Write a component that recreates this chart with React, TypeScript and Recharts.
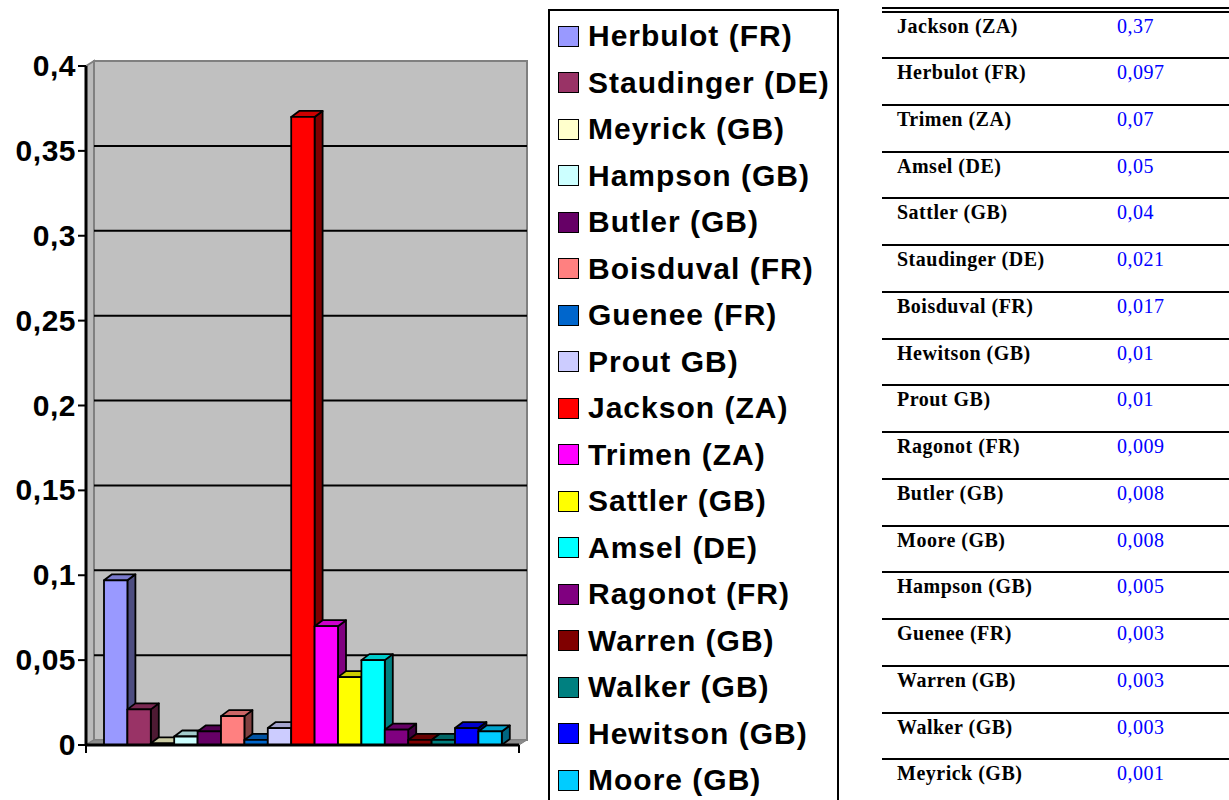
import React from "react";
import { Bar, BarChart, CartesianGrid, Legend, ReferenceArea, XAxis, YAxis } from "recharts";

// legend / series order
const authors = [
  "Herbulot (FR)", "Staudinger (DE)", "Meyrick (GB)", "Hampson (GB)", "Butler (GB)",
  "Boisduval (FR)", "Guenee (FR)", "Prout GB)", "Jackson (ZA)", "Trimen (ZA)",
  "Sattler (GB)", "Amsel (DE)", "Ragonot (FR)", "Warren (GB)", "Walker (GB)",
  "Hewitson (GB)", "Moore (GB)",
];
const shares = [
  0.097, 0.021, 0.001, 0.005, 0.008, 0.017, 0.003, 0.01, 0.37, 0.07,
  0.04, 0.05, 0.009, 0.003, 0.003, 0.01, 0.008,
];
const colors = [
  "#9999FF", "#993366", "#FFFFCC", "#CCFFFF", "#660066", "#FF8080", "#0066CC",
  "#CCCCFF", "#FF0000", "#FF00FF", "#FFFF00", "#00FFFF", "#800080", "#800000",
  "#008080", "#0000FF", "#00CCFF",
];
const yTicks = [0, 0.05, 0.1, 0.15, 0.2, 0.25, 0.3, 0.35, 0.4];

// ranking table on the right
const tableNames = [
  "Jackson (ZA)", "Herbulot (FR)", "Trimen (ZA)", "Amsel (DE)", "Sattler (GB)",
  "Staudinger (DE)", "Boisduval (FR)", "Hewitson (GB)", "Prout GB)", "Ragonot (FR)",
  "Butler (GB)", "Moore (GB)", "Hampson (GB)", "Guenee (FR)", "Warren (GB)",
  "Walker (GB)", "Meyrick (GB)",
];
const tableValues = [
  "0,37", "0,097", "0,07", "0,05", "0,04", "0,021", "0,017", "0,01", "0,01",
  "0,009", "0,008", "0,008", "0,005", "0,003", "0,003", "0,003", "0,001",
];

const row: Record<string, string | number> = { name: "" };
authors.forEach((_, i) => {
  row[`s${i}`] = shares[i];
});
const data = [row];

const SANS = '"Liberation Sans", Arial, sans-serif';
const SERIF = '"Liberation Serif", "Times New Roman", serif';
const TOP = 66;
const BOTTOM = 745;
const WALL_DX = 8;
const WALL_DY = -5;
const BAR_DX = 8;
const BAR_DY = -6;

function shade(hex: string, k: number) {
  const n = parseInt(hex.slice(1), 16);
  const r = Math.round(((n >> 16) & 255) * k);
  const g = Math.round(((n >> 8) & 255) * k);
  const b = Math.round((n & 255) * k);
  return `rgb(${r},${g},${b})`;
}

function Box3D(props: any) {
  const { x, y, width: w, height: h, fill } = props;
  if (w == null || h == null) return null;
  return (
    <g stroke="#000" strokeWidth={1.8} strokeLinejoin="round">
      <polygon
        points={`${x + w},${y} ${x + w + BAR_DX},${y + BAR_DY} ${x + w + BAR_DX},${y + h + BAR_DY} ${x + w},${y + h}`}
        fill={shade(fill, 0.5)}
      />
      <polygon
        points={`${x},${y} ${x + BAR_DX},${y + BAR_DY} ${x + w + BAR_DX},${y + BAR_DY} ${x + w},${y}`}
        fill={shade(fill, 0.8)}
      />
      <rect x={x} y={y} width={w} height={h} fill={fill} />
    </g>
  );
}

function Walls(props: any) {
  const { x, y, width: w, height: h } = props;
  return (
    <g>
      <polygon
        points={`${x},${y} ${x + WALL_DX},${y + WALL_DY} ${x + WALL_DX},${y + h + WALL_DY} ${x},${y + h}`}
        fill="#BABABA"
        stroke="#808080"
        strokeWidth={2}
      />
      <rect x={x + WALL_DX} y={y + WALL_DY} width={w} height={h} fill="#C0C0C0" stroke="#808080" strokeWidth={2} />
      <polygon
        points={`${x},${y + h} ${x + WALL_DX},${y + h + WALL_DY} ${x + w + WALL_DX},${y + h + WALL_DY} ${x + w},${y + h}`}
        fill="#8C8C8C"
        stroke="#808080"
        strokeWidth={1}
      />
      <line x1={x} y1={y + h} x2={x} y2={y + h + 8} stroke="#000" strokeWidth={2} />
      <line x1={x + w} y1={y + h} x2={x + w} y2={y + h + 8} stroke="#000" strokeWidth={2} />
    </g>
  );
}

function GridLine(props: any) {
  const { x1, y1, x2, y2 } = props;
  if (y1 <= TOP + 1 || y1 >= BOTTOM - 1) return <g key={props.key} />;
  return (
    <line
      key={props.key}
      x1={x1 + WALL_DX}
      y1={y1 + WALL_DY}
      x2={x2 + WALL_DX}
      y2={y2 + WALL_DY}
      stroke="#000"
      strokeWidth={2}
    />
  );
}

function YTick({ x, y, payload }: any) {
  const v = payload.value;
  const label = v === 0 ? "0" : String(v).replace(".", ",");
  return (
    <text
      x={x}
      y={y}
      dy={10}
      textAnchor="end"
      fontFamily={SANS}
      fontWeight={700}
      fontSize={30}
      letterSpacing={0.5}
      fill="#000"
    >
      {label}
    </text>
  );
}

function LegendBox({ payload }: any) {
  const items = [...(payload || [])].sort(
    (a: any, b: any) => authors.indexOf(a.value) - authors.indexOf(b.value)
  );
  return (
    <div
      style={{
        width: 291,
        height: 800,
        border: "2px solid #000",
        boxSizing: "border-box",
        background: "#fff",
        paddingTop: 2,
      }}
    >
      {items.map((p: any) => (
        <div key={p.value} style={{ height: 46.5, display: "flex", alignItems: "center" }}>
          <span
            style={{
              display: "inline-block",
              width: 21,
              height: 21,
              boxSizing: "border-box",
              border: "1.5px solid #000",
              background: p.color,
              marginLeft: 8,
              marginRight: 9,
            }}
          />
          <span
            style={{
              fontFamily: SANS,
              fontWeight: 700,
              fontSize: 30,
              letterSpacing: 1,
              lineHeight: "30px",
              color: "#000",
              whiteSpace: "nowrap",
            }}
          >
            {p.value}
          </span>
        </div>
      ))}
    </div>
  );
}

function RankTable() {
  return (
    <div
      style={{
        position: "absolute",
        left: 882,
        top: 7,
        width: 347,
        fontFamily: SERIF,
        fontSize: 20,
        letterSpacing: 0.5,
        lineHeight: "20px",
      }}
    >
      {tableNames.map((n, i) => (
        <div
          key={n}
          style={{
            position: "relative",
            height: i === 0 ? 50 : 46.75,
            boxSizing: "border-box",
            borderTop: i === 0 ? "6px double #000" : "2px solid #000",
          }}
        >
          <span style={{ position: "absolute", left: 15, top: 3, fontWeight: 700, color: "#000" }}>{n}</span>
          <span style={{ position: "absolute", left: 235, top: 3, color: "#0000FF" }}>{tableValues[i]}</span>
        </div>
      ))}
    </div>
  );
}

export default function App() {
  return (
    <div
      style={{
        position: "absolute",
        left: 0,
        top: 0,
        width: 1229,
        height: 800,
        background: "#fff",
        overflow: "hidden",
      }}
    >
      <BarChart
        width={860}
        height={800}
        data={data}
        margin={{ top: TOP, right: 341, bottom: 45, left: 0 }}
        barGap={0}
        barSize={23.4}
      >
        <ReferenceArea y1={0} y2={0.4} shape={<Walls />} ifOverflow="visible" zIndex={-200} />
        <CartesianGrid vertical={false} horizontal={GridLine} />
        <XAxis dataKey="name" tick={false} tickLine={false} height={10} axisLine={{ stroke: "#000", strokeWidth: 3 }} />
        <YAxis
          domain={[0, 0.4]}
          ticks={yTicks}
          interval={0}
          width={86}
          tickSize={8}
          tick={<YTick />}
          axisLine={{ stroke: "#000", strokeWidth: 3 }}
          tickLine={{ stroke: "#000", strokeWidth: 2 }}
        />
        <Legend
          layout="vertical"
          align="center"
          verticalAlign="middle"
          content={<LegendBox />}
          wrapperStyle={{ left: 548, top: 9, width: 291 }}
        />
        {authors.map((a, i) => (
          <Bar
            key={a}
            dataKey={`s${i}`}
            name={a}
            fill={colors[i]}
            barSize={23.4}
            shape={<Box3D />}
            isAnimationActive={false}
          />
        ))}
      </BarChart>
      <RankTable />
    </div>
  );
}
